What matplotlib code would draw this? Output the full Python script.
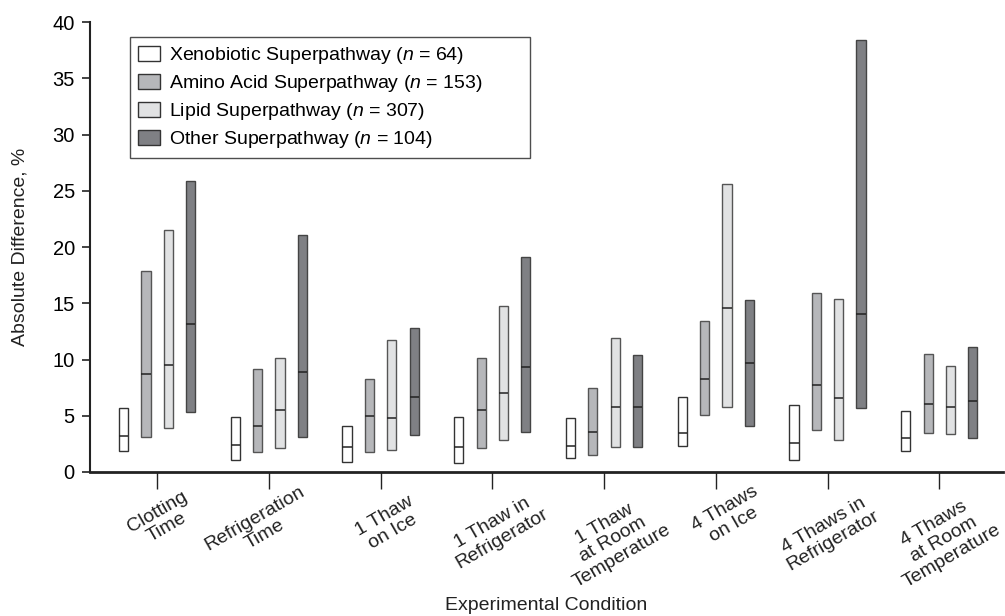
import numpy as np
import matplotlib
matplotlib.use("Agg")
import matplotlib.pyplot as plt
import matplotlib.transforms as mtransforms
from matplotlib.patches import Patch

plt.rcParams['font.family'] = ['Liberation Sans', 'DejaVu Sans']
plt.rcParams['mathtext.fontset'] = 'custom'
plt.rcParams['mathtext.it'] = 'Liberation Sans:italic'
plt.rcParams['mathtext.rm'] = 'Liberation Sans'

conditions = ["Clotting\nTime", "Refrigeration\nTime", "1 Thaw\non Ice",
              "1 Thaw in\nRefrigerator", "1 Thaw\nat Room\nTemperature",
              "4 Thaws\non Ice", "4 Thaws in\nRefrigerator",
              "4 Thaws\nat Room\nTemperature"]

series_names = [r"Xenobiotic Superpathway ($\it{n}$ = 64)",
                r"Amino Acid Superpathway ($\it{n}$ = 153)",
                r"Lipid Superpathway ($\it{n}$ = 307)",
                r"Other Superpathway ($\it{n}$ = 104)"]

xeno_low = [1.85, 1.05, 0.85, 0.8, 1.2, 2.35, 1.05, 1.9]
xeno_med = [3.2, 2.4, 2.2, 2.2, 2.3, 3.45, 2.6, 3.0]
xeno_high = [5.65, 4.85, 4.1, 4.85, 4.8, 6.7, 6.0, 5.45]

amino_low = [3.15, 1.75, 1.8, 2.1, 1.55, 5.1, 3.7, 3.45]
amino_med = [8.75, 4.05, 4.95, 5.5, 3.55, 8.3, 7.7, 6.05]
amino_high = [17.85, 9.2, 8.3, 10.15, 7.5, 13.45, 15.9, 10.45]

lipid_low = [3.9, 2.1, 1.95, 2.85, 2.25, 5.75, 2.8, 3.35]
lipid_med = [9.5, 5.5, 4.8, 7.0, 5.75, 14.55, 6.55, 5.8]
lipid_high = [21.5, 10.1, 11.75, 14.8, 11.9, 25.65, 15.35, 9.4]

other_low = [5.35, 3.1, 3.25, 3.55, 2.2, 4.05, 5.65, 3.05]
other_med = [13.2, 8.85, 6.65, 9.3, 5.8, 9.65, 14.05, 6.35]
other_high = [25.85, 21.05, 12.8, 19.1, 10.4, 15.25, 38.4, 11.15]

lows = [xeno_low, amino_low, lipid_low, other_low]
meds = [xeno_med, amino_med, lipid_med, other_med]
highs = [xeno_high, amino_high, lipid_high, other_high]
colors = ['#ffffff', '#b6b7ba', '#e1e2e3', '#7f8084']
edges = ['#333333', '#555555', '#555555', '#444444']
offsets = [-0.3, -0.1, 0.1, 0.3]
w = 0.082

# hand placed label nudges (pixels) as in the original figure
lab_dx = [5, -9, 8, 5, 9, 13, 1, 4]
lab_y = [520, 527, 524, 531, 540, 517, 533, 540]

fig = plt.figure(figsize=(10.05, 6.16), dpi=100)
ax = fig.add_axes([0.0896, 0.2338, 0.9084, 0.7302])

x = np.arange(len(conditions))
for lo, md, hi, c, ec, off in zip(lows, meds, highs, colors, edges, offsets):
    lo = np.array(lo); md = np.array(md); hi = np.array(hi)
    ax.bar(x + off, hi - lo, bottom=lo, width=w, color=c, edgecolor=ec, linewidth=1.0)
    ax.hlines(md, x + off - w / 2, x + off + w / 2, color='#222222', linewidth=1.1)

ax.set_xlim(-0.6, 7.57)
ax.set_ylim(0, 40)
ax.set_yticks(np.arange(0, 41, 5))
ax.tick_params(axis='y', labelsize=14.5, length=6, width=1.2, color='#222222', pad=5)
ax.set_xticks(x)
ax.set_xticklabels([])
ax.tick_params(axis='x', length=12, width=1.0, color='#222222')

blend = mtransforms.blended_transform_factory(ax.transData, ax.transAxes)
for xi, lab, dx, yp in zip(x, conditions, lab_dx, lab_y):
    tr = blend + mtransforms.ScaledTranslation(dx / 100, 0, fig.dpi_scale_trans)
    ax.text(xi, (472 - yp) / 450, lab, transform=tr, rotation=30, ha='center',
            va='center', multialignment='center', fontsize=14, color='#222222',
            linespacing=1.1, clip_on=False)

for s in ['top', 'right']:
    ax.spines[s].set_visible(False)
ax.spines['left'].set_linewidth(1.5)
ax.spines['bottom'].set_linewidth(2.0)
ax.spines['left'].set_color('#222222')
ax.spines['bottom'].set_color('#222222')

ax.set_ylabel("Absolute Difference, %", fontsize=14, color='#222222')
ax.yaxis.set_label_coords(-0.067, 0.5)
ax.set_xlabel("Experimental Condition", fontsize=14, color='#222222')
ax.xaxis.set_label_coords(0.5, -0.296)
ax.xaxis.label.set_va('center')

handles = [Patch(facecolor=c, edgecolor='#333333', linewidth=1.0) for c in colors]
leg = ax.legend(handles, series_names, loc='upper left',
                bbox_to_anchor=(0.044, 0.7, 0.438, 0.266), mode='expand',
                fontsize=14, frameon=True, fancybox=False, edgecolor='#222222',
                handlelength=1.13, handleheight=0.8, labelspacing=0.36,
                handletextpad=0.45, borderpad=0.4, borderaxespad=0)
leg.get_frame().set_linewidth(1.0)

fig.savefig("out.png", dpi=100)
